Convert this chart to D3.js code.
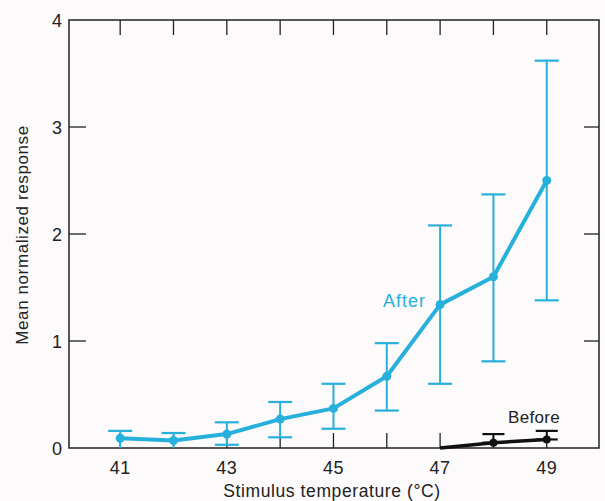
<!DOCTYPE html>
<html>
<head>
<meta charset="utf-8">
<script src="https://cdn.jsdelivr.net/npm/d3@7"></script>
<style>
  body { margin: 0; background: #fcfafa; }
  svg { display: block; }
  text { font-family: "Liberation Sans", Arial, sans-serif; }
</style>
</head>
<body>
<svg id="chart"></svg>
<script>
// temperatures (deg C)
const temps = [41, 42, 43, 44, 45, 46, 47, 48, 49];
// "After" series: mean, upper and lower error bar ends
const afterMean = [0.09, 0.07, 0.13, 0.27, 0.37, 0.67, 1.34, 1.60, 2.50];
const afterHigh = [0.16, 0.14, 0.24, 0.43, 0.60, 0.98, 2.08, 2.37, 3.62];
const afterLow  = [0.00, 0.00, 0.03, 0.10, 0.18, 0.35, 0.60, 0.81, 1.38];
// "Before" series
const beforeTemps = [47, 48, 49];
const beforeMean = [0.00, 0.05, 0.08];
const beforeHigh = [0.00, 0.13, 0.16];
const xTickLabels = [41, 43, 45, 47, 49];
const yTickLabels = [0, 1, 2, 3, 4];

const W = 605, H = 501;
const cyan = "#27b0dc";
const ink = "#222";

const svg = d3.select("#chart").attr("width", W).attr("height", H);

const x = d3.scaleLinear().domain([40.04, 49.98]).range([69, 599]);
const y = d3.scaleLinear().domain([0, 4]).range([448, 20]);

const g = svg.append("g");

// frame
g.append("rect")
  .attr("x", x.range()[0]).attr("y", y.range()[1])
  .attr("width", x.range()[1] - x.range()[0])
  .attr("height", y.range()[0] - y.range()[1])
  .attr("fill", "none").attr("stroke", ink).attr("stroke-width", 1.5);

// inward ticks on all four sides
const allX = d3.range(41, 50);
g.selectAll(".xb").data(allX).join("line")
  .attr("x1", d => x(d)).attr("x2", d => x(d))
  .attr("y1", y(0)).attr("y2", y(0) - 15)
  .attr("stroke", ink).attr("stroke-width", 1.3);
g.selectAll(".xt").data(allX).join("line")
  .attr("x1", d => x(d)).attr("x2", d => x(d))
  .attr("y1", y(4)).attr("y2", y(4) + 15)
  .attr("stroke", ink).attr("stroke-width", 1.3);
g.selectAll(".yl").data([1, 2, 3]).join("line")
  .attr("x1", x.range()[0]).attr("x2", x.range()[0] + 17)
  .attr("y1", d => y(d)).attr("y2", d => y(d))
  .attr("stroke", ink).attr("stroke-width", 1.3);
g.selectAll(".yr").data([1, 2, 3]).join("line")
  .attr("x1", x.range()[1]).attr("x2", x.range()[1] - 15)
  .attr("y1", d => y(d)).attr("y2", d => y(d))
  .attr("stroke", ink).attr("stroke-width", 1.3);

// tick labels
g.selectAll(".xl").data(xTickLabels).join("text")
  .attr("x", d => x(d)).attr("y", 474)
  .attr("text-anchor", "middle").attr("font-size", 18).attr("fill", ink)
  .attr("letter-spacing", 0.5)
  .text(d => d);
g.selectAll(".ylab").data(yTickLabels).join("text")
  .attr("x", 62).attr("y", d => y(d) + 7)
  .attr("text-anchor", "end").attr("font-size", 18).attr("fill", ink)
  .text(d => d);

// axis titles
svg.append("text")
  .attr("x", 332).attr("y", 497)
  .attr("text-anchor", "middle").attr("font-size", 17.5).attr("fill", ink)
  .attr("letter-spacing", 0.6)
  .text("Stimulus temperature (°C)");
svg.append("text")
  .attr("transform", "translate(28,235) rotate(-90)")
  .attr("text-anchor", "middle").attr("font-size", 17).attr("fill", ink)
  .attr("letter-spacing", 0.6)
  .text("Mean normalized response");

// error bars
function errorBars(xs, lo, hi, color, cap, cls) {
  const d = xs.map((t, i) => ({ t, lo: lo[i], hi: hi[i] }));
  const eg = g.append("g").attr("class", cls);
  eg.selectAll("line.v").data(d).join("line").attr("class", "v")
    .attr("x1", e => x(e.t)).attr("x2", e => x(e.t))
    .attr("y1", e => y(e.lo)).attr("y2", e => y(e.hi))
    .attr("stroke", color).attr("stroke-width", 2);
  eg.selectAll("line.hi").data(d.filter(e => e.hi > 0)).join("line").attr("class", "hi")
    .attr("x1", e => x(e.t) - cap).attr("x2", e => x(e.t) + cap)
    .attr("y1", e => y(e.hi)).attr("y2", e => y(e.hi))
    .attr("stroke", color).attr("stroke-width", 2.2);
  eg.selectAll("line.lo").data(d.filter(e => e.lo > 0)).join("line").attr("class", "lo")
    .attr("x1", e => x(e.t) - cap).attr("x2", e => x(e.t) + cap)
    .attr("y1", e => y(e.lo)).attr("y2", e => y(e.lo))
    .attr("stroke", color).attr("stroke-width", 2.2);
}

errorBars(temps, afterLow, afterHigh, cyan, 12, "after-err");
errorBars(beforeTemps, beforeMean, beforeHigh, "#111", 11, "before-err");

// lines
const line = d3.line().x(d => x(d[0])).y(d => y(d[1]));
const afterPts = temps.map((t, i) => [t, afterMean[i]]);
const beforePts = beforeTemps.map((t, i) => [t, beforeMean[i]]);

g.append("path").datum(afterPts).attr("d", line)
  .attr("fill", "none").attr("stroke", cyan).attr("stroke-width", 4)
  .attr("stroke-linejoin", "round");
g.selectAll(".adot").data(afterPts).join("circle")
  .attr("cx", d => x(d[0])).attr("cy", d => y(d[1])).attr("r", 4.5)
  .attr("fill", cyan);

g.append("path").datum(beforePts).attr("d", line)
  .attr("fill", "none").attr("stroke", "#111").attr("stroke-width", 3.5)
  .attr("stroke-linejoin", "round");
g.selectAll(".bdot").data(beforePts.slice(1)).join("circle")
  .attr("cx", d => x(d[0])).attr("cy", d => y(d[1])).attr("r", 4)
  .attr("fill", "#111");

// series labels
svg.append("text").attr("x", 383).attr("y", 307)
  .attr("font-size", 18).attr("fill", cyan).attr("letter-spacing", 1)
  .text("After");
svg.append("text").attr("x", 508).attr("y", 423)
  .attr("font-size", 17).attr("fill", ink).attr("letter-spacing", 0.3)
  .text("Before");
</script>
</body>
</html>
